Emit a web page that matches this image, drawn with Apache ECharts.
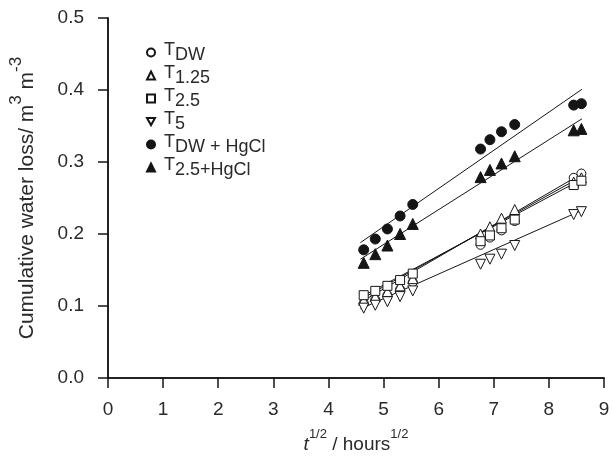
<!DOCTYPE html>
<html>
<head>
<meta charset="utf-8">
<script src="https://cdn.jsdelivr.net/npm/echarts@6/dist/echarts.min.js"></script>
<style>
  html, body { margin: 0; padding: 0; background: #fff; }
  #chart { width: 613px; height: 462px; }
</style>
</head>
<body>
<div id="chart"></div>
<script>
// sqrt(time) of each measurement
var times = [4.64, 4.85, 5.07, 5.30, 5.53, 6.76, 6.93, 7.14, 7.38, 8.45, 8.59];

// cumulative water loss
var lossDW     = [0.104, 0.109, 0.115, 0.123, 0.133, 0.185, 0.195, 0.205, 0.218, 0.278, 0.284];
var loss125    = [0.108, 0.113, 0.120, 0.128, 0.138, 0.200, 0.210, 0.222, 0.234, 0.272, 0.278];
var loss25     = [0.115, 0.121, 0.128, 0.136, 0.145, 0.190, 0.198, 0.208, 0.220, 0.268, 0.274];
var loss5      = [0.097, 0.101, 0.106, 0.113, 0.121, 0.158, 0.165, 0.172, 0.184, 0.227, 0.231];
var lossDWHg   = [0.178, 0.193, 0.207, 0.225, 0.241, 0.318, 0.331, 0.342, 0.352, 0.379, 0.381];
var loss25Hg   = [0.160, 0.172, 0.184, 0.200, 0.214, 0.279, 0.289, 0.298, 0.308, 0.344, 0.346];

// regression lines (end points)
var fitDW   = [[4.58, 0.105], [8.6, 0.284]];
var fit125  = [[4.58, 0.109], [8.6, 0.280]];
var fit25   = [[4.58, 0.112], [8.6, 0.276]];
var fit5    = [[4.58, 0.096], [8.6, 0.233]];
var fitDWHg = [[4.58, 0.188], [8.6, 0.401]];
var fit25Hg = [[4.58, 0.165], [8.6, 0.360]];

var names = ['T_DW', 'T_1.25', 'T_2.5', 'T_5', 'T_DW+HgCl', 'T_2.5+HgCl'];
var legendText = {
    'T_DW': '{t|T}{s|DW}',
    'T_1.25': '{t|T}{s|1.25}',
    'T_2.5': '{t|T}{s|2.5}',
    'T_5': '{t|T}{s|5}',
    'T_DW+HgCl': '{t|T}{s|DW + HgCl}',
    'T_2.5+HgCl': '{t|T}{s|2.5+HgCl}'
};

var downTri = 'path://M0,0 L10,0 L5,9 Z';
var ink = '#151515';
var txt = '#2a2a2a';
var fam = 'Liberation Sans, Arial, sans-serif';

function pairs(ys) {
    return times.map(function (t, i) { return [t, ys[i]]; });
}

function scatter(name, ys, symbol, filled, size) {
    return {
        name: name,
        type: 'scatter',
        data: pairs(ys),
        symbol: symbol,
        symbolSize: size,
        z: 3,
        itemStyle: {
            color: filled ? ink : '#fff',
            borderColor: ink,
            borderWidth: 1,
            opacity: 1
        }
    };
}

function fitLine(pts) {
    return {
        type: 'line',
        data: pts,
        symbol: 'none',
        silent: true,
        z: 2,
        lineStyle: { color: ink, width: 1 }
    };
}

var chart = echarts.init(document.getElementById('chart'));

chart.setOption({
    animation: false,
    backgroundColor: '#fff',
    grid: { left: 108, right: 9, top: 18, bottom: 84 },
    legend: {
        orient: 'vertical',
        left: 141,
        top: 36,
        itemWidth: 8,
        itemHeight: 8,
        itemGap: 0,
        data: names,
        formatter: function (n) { return legendText[n]; },
        textStyle: {
            padding: [0, 0, 0, 4],
            rich: {
                t: { fontFamily: fam, fontSize: 18, color: txt, verticalAlign: 'top', lineHeight: 23 },
                s: { fontFamily: fam, fontSize: 18, color: txt, verticalAlign: 'bottom', lineHeight: 23 }
            }
        }
    },
    xAxis: [{
        type: 'value',
        min: 0, max: 9, interval: 1,
        name: '{i|t}{sup|1/2}{n| / hours}{sup|1/2}',
        nameLocation: 'middle',
        nameGap: 50,
        nameTextStyle: {
            rich: {
                i: { fontFamily: fam, fontSize: 19, fontStyle: 'italic', color: txt, verticalAlign: 'bottom', lineHeight: 26 },
                n: { fontFamily: fam, fontSize: 19, color: txt, verticalAlign: 'bottom', lineHeight: 26 },
                sup: { fontFamily: fam, fontSize: 13, color: txt, verticalAlign: 'top', lineHeight: 26 }
            }
        },
        axisLine: { lineStyle: { color: ink, width: 1.5 } },
        axisTick: { length: 10, lineStyle: { color: ink, width: 1.5 } },
        axisLabel: { margin: 22, fontFamily: fam, fontSize: 19, color: txt },
        splitLine: { show: false }
    }, {
        type: 'value',
        position: 'top',
        min: 0, max: 9,
        axisLine: { show: true, lineStyle: { color: ink, width: 1.5 } },
        axisTick: { show: false },
        axisLabel: { show: false },
        splitLine: { show: false }
    }],
    yAxis: [{
        type: 'value',
        min: 0, max: 0.5, interval: 0.1,
        name: '{n|Cumulative water loss/ m}{sup|3}{n| m}{sup|-3}',
        nameLocation: 'middle',
        nameGap: 70,
        nameRotate: 90,
        nameTextStyle: {
            rich: {
                n: { fontFamily: fam, fontSize: 21, color: txt, verticalAlign: 'bottom', lineHeight: 30 },
                sup: { fontFamily: fam, fontSize: 17, color: txt, verticalAlign: 'top', lineHeight: 30 }
            }
        },
        axisLine: { lineStyle: { color: ink, width: 1.5 } },
        axisTick: { length: 10, lineStyle: { color: ink, width: 1.5 } },
        axisLabel: { margin: 24, fontFamily: fam, fontSize: 19, color: txt, formatter: function (v) { return v.toFixed(1); } },
        splitLine: { show: false }
    }, {
        type: 'value',
        position: 'right',
        min: 0, max: 0.5,
        axisLine: { show: true, lineStyle: { color: ink, width: 1.5 } },
        axisTick: { show: false },
        axisLabel: { show: false },
        splitLine: { show: false }
    }],
    series: [
        fitLine(fitDW), fitLine(fit125), fitLine(fit25), fitLine(fit5), fitLine(fitDWHg), fitLine(fit25Hg),
        scatter('T_DW', lossDW, 'circle', false, 9),
        scatter('T_1.25', loss125, 'triangle', false, 10),
        scatter('T_2.5', loss25, 'rect', false, 9),
        scatter('T_5', loss5, downTri, false, 10),
        scatter('T_DW+HgCl', lossDWHg, 'circle', true, 10),
        scatter('T_2.5+HgCl', loss25Hg, 'triangle', true, 11)
    ]
});
</script>
</body>
</html>
